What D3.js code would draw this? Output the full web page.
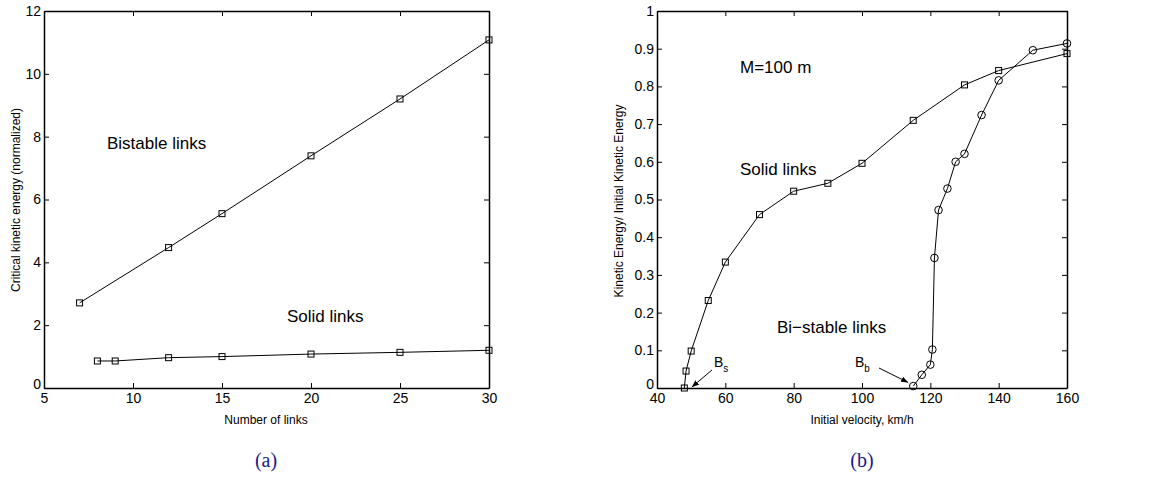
<!DOCTYPE html>
<meta charset="utf-8">
<style>
body { margin: 0; background: #fff; }
svg { font-family: "Liberation Sans", Arial, sans-serif; }
.axis text { font-size: 14px; fill: #000; }
.axis path, .axis line { stroke: #000; }
.lbl { font-size: 12px; }
.note { font-size: 17px; }
.cap { font-family: "Liberation Serif", "Times New Roman", serif; font-size: 20px; fill: #1a1a8c; }
</style>
<svg width="1167" height="495"></svg>
<script src="https://d3js.org/d3.v7.min.js"></script>
<script>

// (a) critical kinetic energy vs number of links
var linksBistableX = [7, 12, 15, 20, 25, 30],
    linksBistableY = [2.71, 4.47, 5.55, 7.39, 9.2, 11.08];
var linksSolidX = [8, 9, 12, 15, 20, 25, 30],
    linksSolidY = [0.86, 0.86, 0.965, 1.0, 1.08, 1.135, 1.2];
var ticksAX = [5, 10, 15, 20, 25, 30],
    ticksAY = [0, 2, 4, 6, 8, 10, 12];

// (b) energy ratio vs initial velocity, M=100 m
var velSolidX = [48, 48.5, 50, 55, 60, 70, 80, 90, 100, 115, 130, 140, 160],
    velSolidY = [0, 0.045, 0.098, 0.232, 0.334, 0.46, 0.522, 0.543, 0.596, 0.71, 0.804, 0.842, 0.887];
var velBistableX = [115, 117.5, 120, 120.6, 121.2, 122.4, 125, 127.4, 130, 135, 140, 150, 160],
    velBistableY = [0.005, 0.035, 0.062, 0.102, 0.345, 0.472, 0.529, 0.6, 0.621, 0.724, 0.816, 0.896, 0.914];
var ticksBX = [40, 60, 80, 100, 120, 140, 160],
    ticksBY = [0, 0.1, 0.2, 0.3, 0.4, 0.5, 0.6, 0.7, 0.8, 0.9, 1];

var svg = d3.select("svg");

function zip(xs, ys) {
  return xs.map(function(x, i) { return [x, ys[i]]; });
}

function panel(left, right, top, bottom, xdom, ydom, xt, yt, fmtY) {
  var x = d3.scaleLinear().domain(xdom).range([left, right]),
      y = d3.scaleLinear().domain(ydom).range([bottom, top]);
  var g = svg.append("g");

  // MATLAB style box with inward ticks on all four sides
  g.append("g").attr("class", "axis")
      .attr("transform", "translate(0," + bottom + ")")
      .call(d3.axisBottom(x).tickValues(xt).tickSizeInner(-5).tickSizeOuter(0).tickPadding(5).tickFormat(d3.format("d")));
  var yl = g.append("g").attr("class", "axis")
      .attr("transform", "translate(" + left + ",0)")
      .call(d3.axisLeft(y).tickValues(yt).tickSizeInner(-5).tickSizeOuter(0).tickPadding(3).tickFormat(fmtY));
  // lift the bottom label a bit so it clears the first x label
  yl.selectAll(".tick text").filter(function(d) { return d === ydom[0]; }).attr("dy", "0.05em");
  g.append("g").attr("class", "axis")
      .attr("transform", "translate(0," + top + ")")
      .call(d3.axisTop(x).tickValues(xt).tickSizeInner(-5).tickSizeOuter(0).tickFormat(""));
  g.append("g").attr("class", "axis")
      .attr("transform", "translate(" + right + ",0)")
      .call(d3.axisRight(y).tickValues(yt).tickSizeInner(-5).tickSizeOuter(0).tickFormat(""));
  g.selectAll(".axis path.domain").attr("stroke-width", 1.5);
  g.selectAll(".axis line").attr("stroke-width", 1);

  return { g: g, x: x, y: y };
}

function series(p, pts, marker) {
  var line = d3.line().x(function(d) { return p.x(d[0]); }).y(function(d) { return p.y(d[1]); });
  p.g.append("path").datum(pts)
      .attr("d", line).attr("fill", "none").attr("stroke", "#000").attr("stroke-width", 1);
  if (marker === "square") {
    p.g.selectAll(null).data(pts).enter().append("rect")
        .attr("x", function(d) { return p.x(d[0]) - 3; })
        .attr("y", function(d) { return p.y(d[1]) - 3; })
        .attr("width", 6).attr("height", 6)
        .attr("fill", "none").attr("stroke", "#000").attr("stroke-width", 1);
  } else {
    p.g.selectAll(null).data(pts).enter().append("circle")
        .attr("cx", function(d) { return p.x(d[0]); })
        .attr("cy", function(d) { return p.y(d[1]); })
        .attr("r", 3.8)
        .attr("fill", "none").attr("stroke", "#000").attr("stroke-width", 1);
  }
}

// ---- panel (a)
var pa = panel(44, 489, 11, 388, [5, 30], [0, 12], ticksAX, ticksAY, d3.format("d"));
series(pa, zip(linksBistableX, linksBistableY), "square");
series(pa, zip(linksSolidX, linksSolidY), "square");

pa.g.append("text").attr("class", "note").attr("x", 107).attr("y", 149).text("Bistable links");
pa.g.append("text").attr("class", "note").attr("x", 287).attr("y", 322).text("Solid links");
pa.g.append("text").attr("class", "lbl").attr("x", 266).attr("y", 424)
    .attr("text-anchor", "middle").text("Number of links");
pa.g.append("text").attr("class", "lbl").attr("text-anchor", "middle")
    .attr("transform", "translate(20,200) rotate(-90)").text("Critical kinetic energy (normalized)");
pa.g.append("text").attr("class", "cap").attr("x", 266).attr("y", 467)
    .attr("text-anchor", "middle").text("(a)");

// ---- panel (b)
var pb = panel(657, 1067, 11, 388, [40, 160], [0, 1], ticksBX, ticksBY, function(d) { return d === 0 || d === 1 ? d3.format("d")(d) : d3.format(".1f")(d); });
series(pb, zip(velSolidX, velSolidY), "square");
series(pb, zip(velBistableX, velBistableY), "circle");

pb.g.append("text").attr("class", "note").attr("x", 740).attr("y", 73).text("M=100 m");
pb.g.append("text").attr("class", "note").attr("x", 740).attr("y", 175).text("Solid links");
pb.g.append("text").attr("class", "note").attr("x", 777).attr("y", 333).text("Bi\u2212stable links");
pb.g.append("text").attr("class", "lbl").attr("x", 862).attr("y", 424)
    .attr("text-anchor", "middle").text("Initial velocity, km/h");
pb.g.append("text").attr("class", "lbl").attr("text-anchor", "middle")
    .attr("transform", "translate(623,201) rotate(-90)").text("Kinetic Energy/ Initial Kinetic Energy");
pb.g.append("text").attr("class", "cap").attr("x", 862).attr("y", 467)
    .attr("text-anchor", "middle").text("(b)");

// B_s and B_b annotations with arrows
svg.append("defs").append("marker")
    .attr("id", "arr").attr("viewBox", "0 0 10 10").attr("refX", 10).attr("refY", 5)
    .attr("markerWidth", 7).attr("markerHeight", 7).attr("orient", "auto")
  .append("path").attr("d", "M0,1L10,5L0,9z").attr("fill", "#000");

function label(p, tx, ty, main, sub, fromX, fromY, toV) {
  var t = p.g.append("text").attr("x", tx).attr("y", ty).attr("font-size", 14);
  t.append("tspan").text(main);
  t.append("tspan").attr("dy", 5).attr("font-size", 10).text(sub);
  p.g.append("line")
      .attr("x1", fromX).attr("y1", fromY)
      .attr("x2", p.x(toV[0])).attr("y2", p.y(toV[1]) - 1)
      .attr("stroke", "#000").attr("stroke-width", 1)
      .attr("marker-end", "url(#arr)");
}
label(pb, 714, 367, "B", "s", 712, 370, [50.2, 0]);
label(pb, 855, 367, "B", "b", 879, 368, [113.5, 0.012]);

</script>
